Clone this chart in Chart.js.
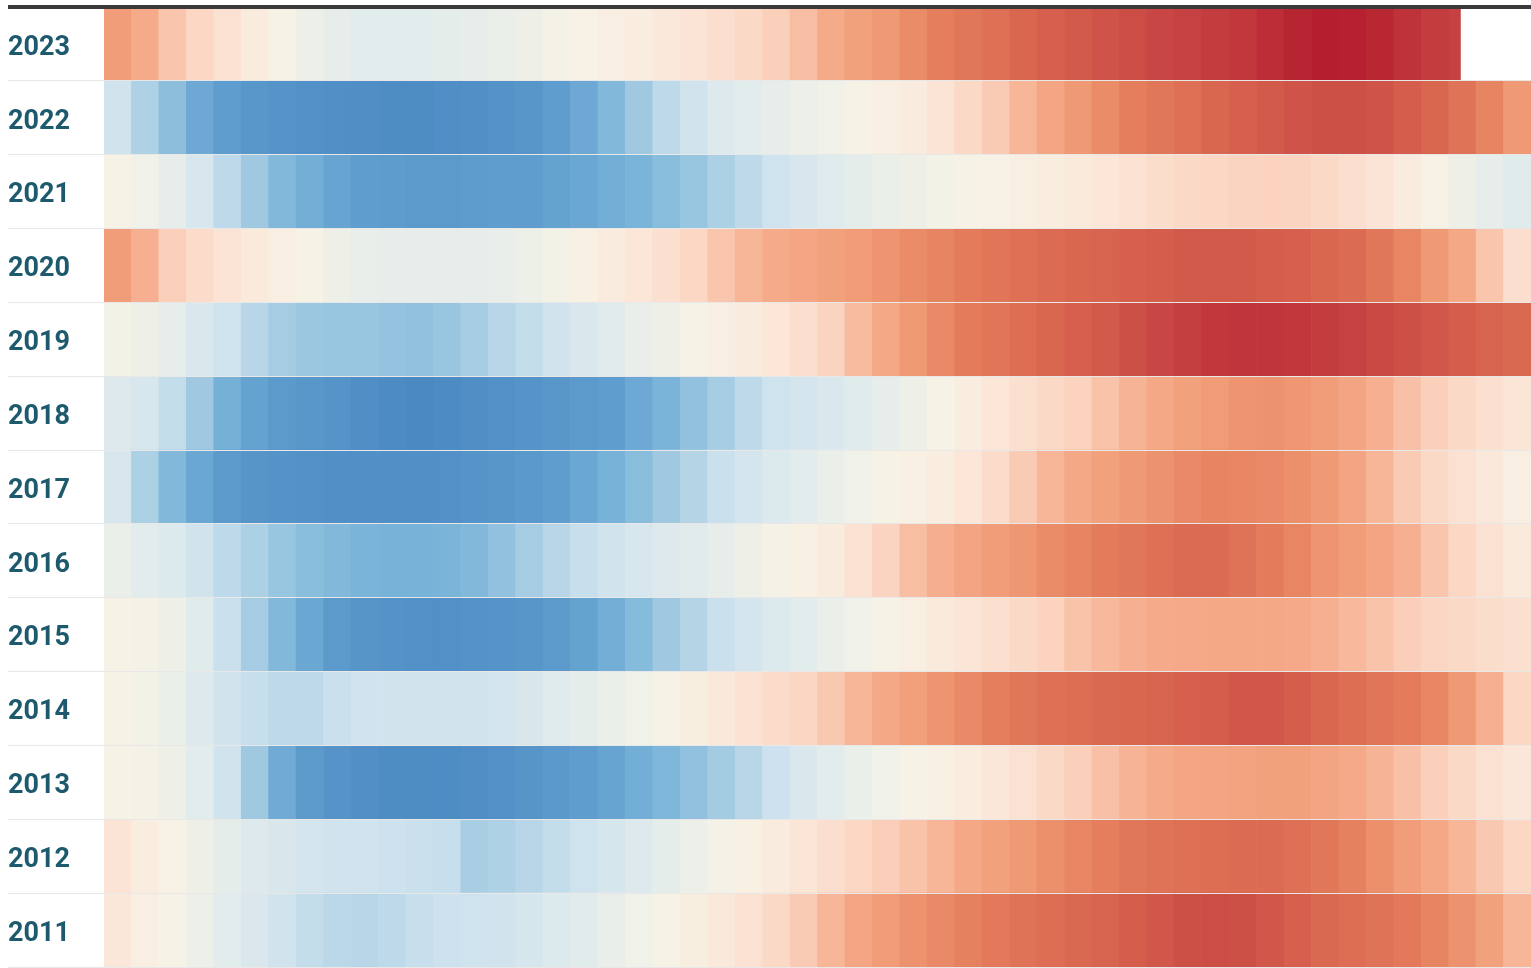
<!DOCTYPE html>
<html>
<head>
<meta charset="utf-8">
<script src="https://cdn.jsdelivr.net/npm/chart.js@4.4.0/dist/chart.umd.min.js"></script>
<style>
  html, body { margin: 0; padding: 0; background: #fff; overflow: hidden; }
</style>
</head>
<body>
<canvas id="heatChart" width="1531" height="968"></canvas>
<script>
// one row per year, one value per week (index of warmth, -100 cold .. 100 hot)
const years = ["2023", "2022", "2021", "2020", "2019", "2018", "2017", "2016", "2015", "2014", "2013", "2012", "2011"];
const weekDays = 7;
const yearDays = 364;
const lastDay2023 = 346;

const v2023 = [48,40,30,22,14,6,0,-5,-8,-10, -10,-10,-9,-8,-6,-4,-1,1,3,5, 8,12,16,20,26,33,40,46,50,55, 60,63,66,70,72,74,76,78,80,82, 84,86,90,94,97,96,93,88,84,82];
const v2022 = [-22,-35,-45,-55,-60,-64,-67,-69,-70,-71, -72,-72,-71,-70,-68,-65,-60,-55,-48,-40, -30,-22,-14,-10,-8,-5,-3,0,3,6, 12,20,28,36,43,50,55,60,63,66, 70,72,74,76,77,77,76,73,70,65, 58,50];
const v2021 = [0,-3,-8,-18,-30,-40,-48,-53,-57,-60, -61,-62,-62,-61,-60,-60,-58,-56,-53,-50, -46,-42,-36,-30,-24,-18,-13,-9,-6,-4, -2,0,1,3,5,7,10,13,17,20, 22,24,25,24,20,16,12,6,1,-4, -8,-12];
const v2020 = [48,38,26,18,12,7,3,0,-4,-7, -8,-8,-8,-8,-7,-5,-2,2,6,10, 15,22,30,36,40,43,46,49,52,55, 58,61,64,66,68,70,71,72,73,74, 74,74,73,72,70,68,63,57,50,42, 30,16];
const v2019 = [-2,-4,-8,-16,-24,-32,-38,-41,-42,-42, -43,-44,-42,-38,-32,-28,-22,-16,-11,-7, -4,0,3,6,10,16,24,34,42,50, 56,61,64,67,70,72,74,77,80,83, 86,87,87,86,84,82,79,77,75,73, 71,69];
const v2018 = [-14,-18,-28,-40,-52,-58,-62,-64,-67,-71, -73,-74,-73,-71,-69,-67,-64,-62,-60,-55, -50,-44,-38,-30,-24,-20,-16,-12,-8,-4, 0,5,10,15,20,25,31,37,42,46, 49,52,53,51,48,44,38,32,26,20, 15,11];
const v2017 = [-18,-36,-48,-56,-62,-66,-68,-69,-70,-70, -70,-70,-69,-67,-65,-63,-60,-56,-51,-46, -40,-33,-26,-20,-15,-10,-6,-3,0,2, 5,10,18,28,36,42,46,50,53,56, 58,57,56,54,50,44,36,28,20,14, 8,3];
const v2016 = [-6,-10,-15,-22,-30,-36,-42,-46,-48,-50, -51,-51,-50,-48,-44,-38,-32,-27,-22,-18, -14,-11,-8,-4,-1,2,6,14,24,33, 39,44,48,51,55,58,61,63,66,68, 68,65,61,57,52,48,44,38,30,22, 14,7];
const v2015 = [0,-1,-4,-12,-26,-38,-48,-56,-62,-66, -68,-69,-69,-68,-67,-65,-62,-58,-53,-47, -40,-33,-26,-20,-15,-10,-6,-3,0,3, 7,11,15,20,25,31,35,38,40,41, 42,42,42,41,38,35,31,27,23,20, 17,15];
const v2014 = [0,-2,-6,-14,-22,-27,-30,-30,-26,-23, -22,-22,-22,-22,-20,-17,-13,-9,-6,-3, 0,4,8,13,18,23,29,36,42,47, 52,56,60,63,66,67,69,70,71,72, 73,75,75,73,70,67,64,61,57,50, 38,22];
const v2013 = [0,-1,-4,-10,-22,-40,-54,-62,-67,-70, -72,-72,-72,-71,-69,-66,-63,-60,-57,-53, -49,-44,-39,-32,-25,-16,-10,-6,-3,0, 2,5,9,14,20,26,32,37,40,43, 44,45,46,46,44,41,37,32,26,20, 14,9];
const v2012 = [12,5,1,-4,-9,-14,-17,-20,-22,-23, -25,-26,-27,-37,-35,-32,-28,-24,-19,-14, -9,-5,-1,2,6,11,16,22,27,31, 36,42,46,50,54,57,60,63,65,66, 67,68,68,66,63,59,54,48,42,36, 29,22];
const v2011 = [9,3,0,-5,-10,-16,-22,-28,-31,-32, -30,-27,-25,-24,-22,-19,-15,-11,-7,-3, 0,4,8,14,20,28,36,43,49,53, 56,59,62,65,67,69,71,73,75,77, 78,77,75,72,69,67,65,62,58,53, 46,36];

const rows = [v2023, v2022, v2021, v2020, v2019, v2018, v2017, v2016, v2015, v2014, v2013, v2012, v2011];

// diverging blue - cream - red scale
const stops = [
  [-100, "#3a78b8"], [-75, "#4a88c2"], [-60, "#5f9dce"], [-50, "#7ab5d9"],
  [-40, "#a0c9e1"], [-25, "#cde2ee"], [-10, "#e3ecec"], [0, "#f6f3e6"],
  [10, "#fbe6d8"], [25, "#fbd3bf"], [40, "#f5ab8a"], [50, "#f09a75"],
  [60, "#e57e5d"], [70, "#d96750"], [80, "#c84643"], [90, "#bc2d37"], [100, "#b2182b"]
];

function hexRgb(h) {
  return [parseInt(h.slice(1, 3), 16), parseInt(h.slice(3, 5), 16), parseInt(h.slice(5, 7), 16)];
}

function colorFor(v) {
  if (v <= stops[0][0]) return stops[0][1];
  for (let i = 1; i < stops.length; i++) {
    if (v <= stops[i][0]) {
      const t = (v - stops[i - 1][0]) / (stops[i][0] - stops[i - 1][0]);
      const a = hexRgb(stops[i - 1][1]), b = hexRgb(stops[i][1]);
      const c = a.map((x, k) => Math.round(x + (b[k] - x) * t));
      return "rgb(" + c.join(",") + ")";
    }
  }
  return stops[stops.length - 1][1];
}

const cells = [];
rows.forEach((vals, r) => {
  const end = years[r] === "2023" ? lastDay2023 : yearDays;
  vals.forEach((v, i) => {
    const s = i * weekDays;
    cells.push({ x: [s, Math.min(s + weekDays, end)], y: years[r], v: v });
  });
});

new Chart("heatChart", {
  type: "bar",
  data: {
    labels: years,
    datasets: [{
      data: cells,
      backgroundColor: ctx => ctx.raw ? colorFor(ctx.raw.v) : "#fff",
      borderWidth: 0,
      barPercentage: 1,
      categoryPercentage: 1,
      grouped: false
    }]
  },
  options: {
    indexAxis: "y",
    responsive: false,
    animation: false,
    devicePixelRatio: 1,
    layout: { padding: { left: 8, top: 7, right: 0, bottom: 1 } },
    plugins: { legend: { display: false }, tooltip: { enabled: false } },
    scales: {
      x: { type: "linear", min: 0, max: yearDays, display: false },
      y: {
        type: "category",
        offset: true,
        border: { display: false },
        grid: {
          offset: true,
          z: 1,
          drawTicks: true,
          tickLength: 96,
          color: ctx => ctx.index === 0 ? "#3a3a3a" : "#e8e8e8",
          lineWidth: ctx => ctx.index === 0 ? 4 : 1
        },
        ticks: {
          crossAlign: "far",
          padding: 0,
          labelOffset: 4,
          color: "#1e5a6e",
          font: { family: "Roboto", weight: "bold", size: 27 }
        },
        afterFit: scale => {
          scale.width = 96;
          scale.paddingTop = 0;
          scale.paddingBottom = 0;
        }
      }
    }
  }
});
</script>
</body>
</html>
